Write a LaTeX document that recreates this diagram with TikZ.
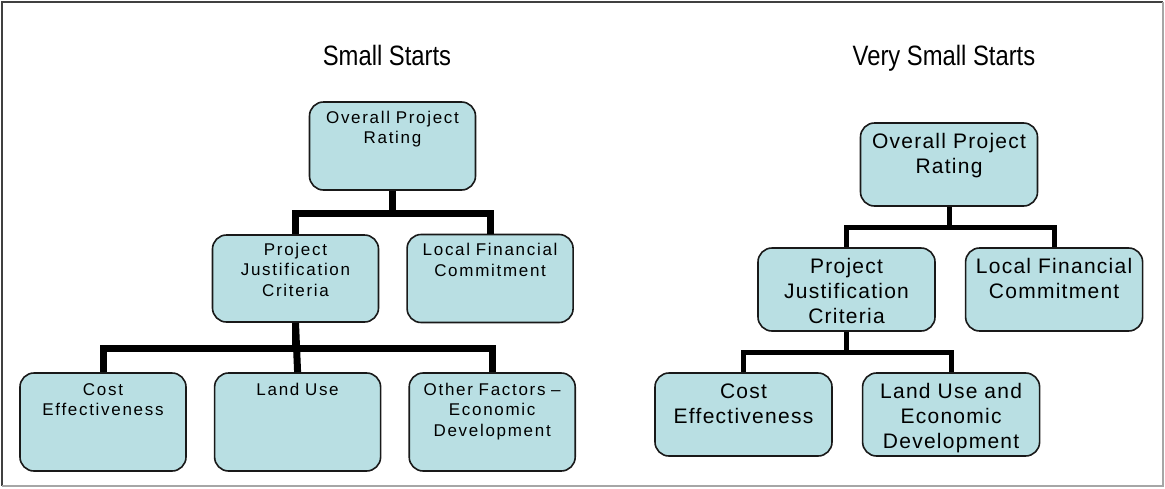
\documentclass[tikz,border=0pt]{standalone}
\usepackage{fontspec}
\setmainfont{Liberation Sans}
\newfontfamily\titlefont[FakeStretch=0.85]{Liberation Sans}
\newfontfamily\cardfont[LetterSpace=10]{Liberation Sans}
\newfontfamily\cardfontbig[LetterSpace=6]{Liberation Sans}
\usetikzlibrary{positioning}
\definecolor{cardfill}{RGB}{185,223,227}
\tikzset{card/.style={draw=black!90, line width=1.6pt, rounded corners=14pt, fill=cardfill, inner sep=0pt, align=center}}
\tikzset{lcard/.style={card, text width=166pt, text height=21pt, text depth=67pt, font=\cardfont\fontsize{17}{20.5}\selectfont}}
\tikzset{lcardlow/.style={lcard, text height=22pt, text depth=76pt}}
\tikzset{rcard/.style={card, text width=177pt, text height=25pt, text depth=58pt, font=\cardfontbig\fontsize{21}{25}\selectfont}}
\tikzset{lwire/.style={line width=7pt, line join=miter}}
\tikzset{rwire/.style={line width=5pt, line join=miter}}
\tikzset{heading/.style={font=\titlefont\fontsize{28}{32}\selectfont, anchor=base}}

\begin{document}
\begin{tikzpicture}[x=1pt, y=-1pt]
\useasboundingbox (0,0) rectangle (1165,488);
\draw[black!75, line width=2pt] (2,486) -- (2,2) -- (1163,2);
\draw[black!35, line width=2pt] (1163,2) -- (1163,486) -- (2,486);

% small starts
\node (ltitle) [heading] at (387,65) {Small Starts};
\node (lopr) [lcard] at (392.5,146) {Overall Project\\Rating};
\node (lpjc) [lcard, text height=20pt] at (295.5,278.5) {Project\\Justification\\Criteria};
\node (llfc) [lcard, right=27pt of lpjc] {Local Financial\\Commitment};
\node (lcost) [lcardlow] at (103,422) {Cost\\Effectiveness};
\node (lland) [lcardlow, right=27pt of lcost] {Land Use};
\node (lother) [lcardlow, right=27pt of lland] {Other Factors –\\Economic\\Development};

\draw[lwire] (lopr.south) -- ++(0,23) -| (lpjc.north);
\draw[lwire] (lopr.south) -- ++(0,23) -| (llfc.north);
\draw[lwire] (lpjc.south) -- ++(0,26) -| (lcost.north);
\draw[lwire] (lpjc.south) -- (lland.north);
\draw[lwire] (lpjc.south) -- ++(0,26) -| (lother.north);

% very small starts
\node (rtitle) [heading] at (944,65) {Very Small Starts};
\node (ropr) [rcard] at (949,164.5) {Overall Project\\Rating};
\node (rpjc) [rcard] at (846.5,289.5) {Project\\Justification\\Criteria};
\node (rlfc) [rcard, right=29pt of rpjc] {Local Financial\\Commitment};
\node (rcost) [rcard] at (743.5,414.5) {Cost\\Effectiveness};
\node (rland) [rcard, right=29pt of rcost] {Land Use and\\Economic\\Development};

\draw[rwire] (ropr.south) -- ++(0,21) -| (rpjc.north);
\draw[rwire] (ropr.south) -- ++(0,21) -| (rlfc.north);
\draw[rwire] (rpjc.south) -- ++(0,21) -| (rcost.north);
\draw[rwire] (rpjc.south) -- ++(0,21) -| (rland.north);
\end{tikzpicture}
\end{document}
